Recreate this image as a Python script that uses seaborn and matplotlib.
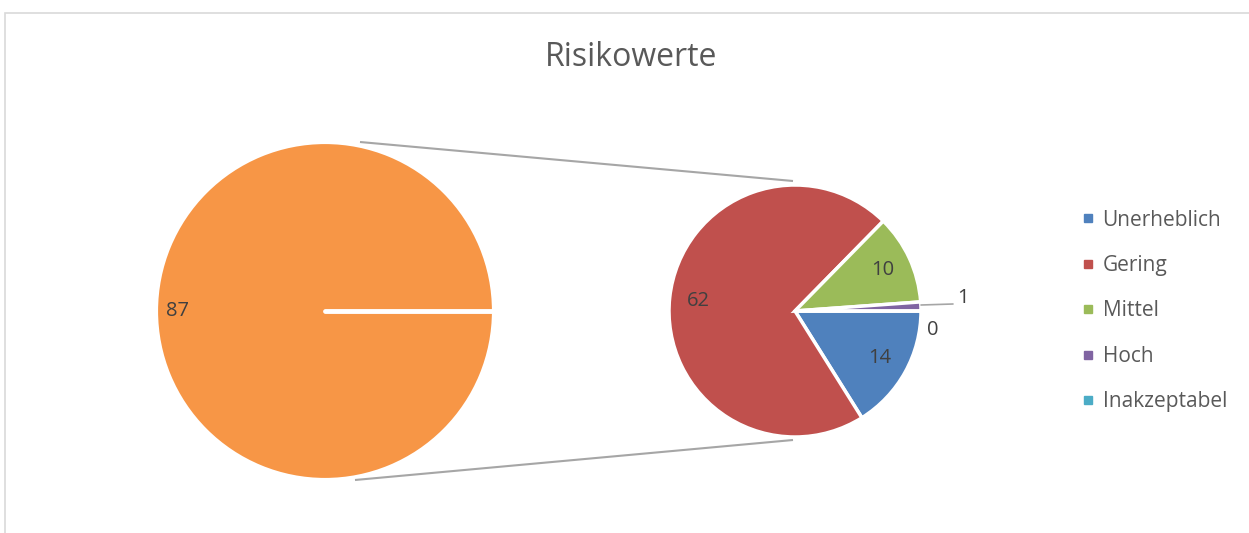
import numpy as np
import matplotlib
matplotlib.use("Agg")
import matplotlib.pyplot as plt
from matplotlib.lines import Line2D
from matplotlib.patches import Rectangle
import seaborn as sns

# Risk categories shown in the detail pie and the legend
categories = ["Unerheblich", "Gering", "Mittel", "Hoch", "Inakzeptabel"]
counts = [14, 62, 10, 1, 0]
palette = ["#4F81BD", "#C0504D", "#9BBB59", "#8064A2", "#4BACC6"]
total_color = "#F79646"
title = "Risikowerte"

sns.set_theme(style="white")
plt.rcParams["font.family"] = ["Open Sans", "DejaVu Sans"]

W, H = 1249, 533
fig = plt.figure(figsize=(W / 100, H / 100), dpi=100)
ax = fig.add_axes([0, 0, 1, 1])


def Y(y):
    return H - y


text_color = "#404040"
label_size = 14.5

# chart area frame
ax.add_patch(Rectangle((5.5, Y(600)), 1400, 600 - 13, fill=False,
                       edgecolor="#D9D9D9", linewidth=1.2))

# main pie: one slice holding the sum of all categories
total = sum(counts)
c1, r1 = (325, Y(311)), 169
w1, t1 = ax.pie([total], colors=[total_color], center=c1, radius=r1,
                startangle=0, counterclock=False, labels=[str(total)],
                labeldistance=0.87,
                wedgeprops=dict(edgecolor="white", linewidth=3),
                textprops=dict(fontsize=label_size, color=text_color))
for t in t1:
    t.set_ha("center")
    t.set_va("center")

# the full-circle slice still shows its start edge as a white radius
theta = np.deg2rad(w1[0].theta1)
ax.plot([c1[0], c1[0] + r1 * np.cos(theta)],
        [c1[1], c1[1] + r1 * np.sin(theta)],
        color="white", lw=3.5, solid_capstyle="round")

# detail pie with the category breakdown
c2, r2 = (795, Y(311)), 126
w2, t2 = ax.pie(counts, colors=palette, center=c2, radius=r2,
                startangle=0, counterclock=False,
                labels=[str(v) for v in counts], labeldistance=0.77,
                wedgeprops=dict(edgecolor="white", linewidth=2.5),
                textprops=dict(fontsize=label_size, color=text_color))
for t in t2:
    t.set_ha("center")
    t.set_va("center")

# small slices get their labels outside the pie
t2[3].set_position((963, Y(298)))
ax.plot([c2[0] + r2 * 1.0, 953], [Y(305), Y(304)], color="#A6A6A6", lw=1.2)
t2[4].set_position((933, Y(330)))

# connector lines between the two pies
ax.plot([360, 793], [Y(142), Y(181)], color="#A6A6A6", lw=1.5,
        solid_capstyle="butt")
ax.plot([355, 793], [Y(480), Y(440)], color="#A6A6A6", lw=1.5,
        solid_capstyle="butt")

ax.text(631, Y(58), title, ha="center", va="center", fontsize=23,
        color="#595959")

handles = [Line2D([], [], marker="s", linestyle="none", markersize=6,
                  markerfacecolor=c, markeredgecolor=c) for c in palette]
ax.legend(handles, categories, loc="center left",
          bbox_to_anchor=(1064 / W, 1 - 311 / H), frameon=False,
          fontsize=15, labelspacing=1.17, handlelength=0.5,
          handletextpad=0.45, labelcolor="#595959")

# pie() resets the limits, so fix the pixel-sized data frame afterwards
ax.set_xlim(0, W)
ax.set_ylim(0, H)
ax.set_aspect("equal")
ax.axis("off")

fig.savefig("out.png", dpi=100)
